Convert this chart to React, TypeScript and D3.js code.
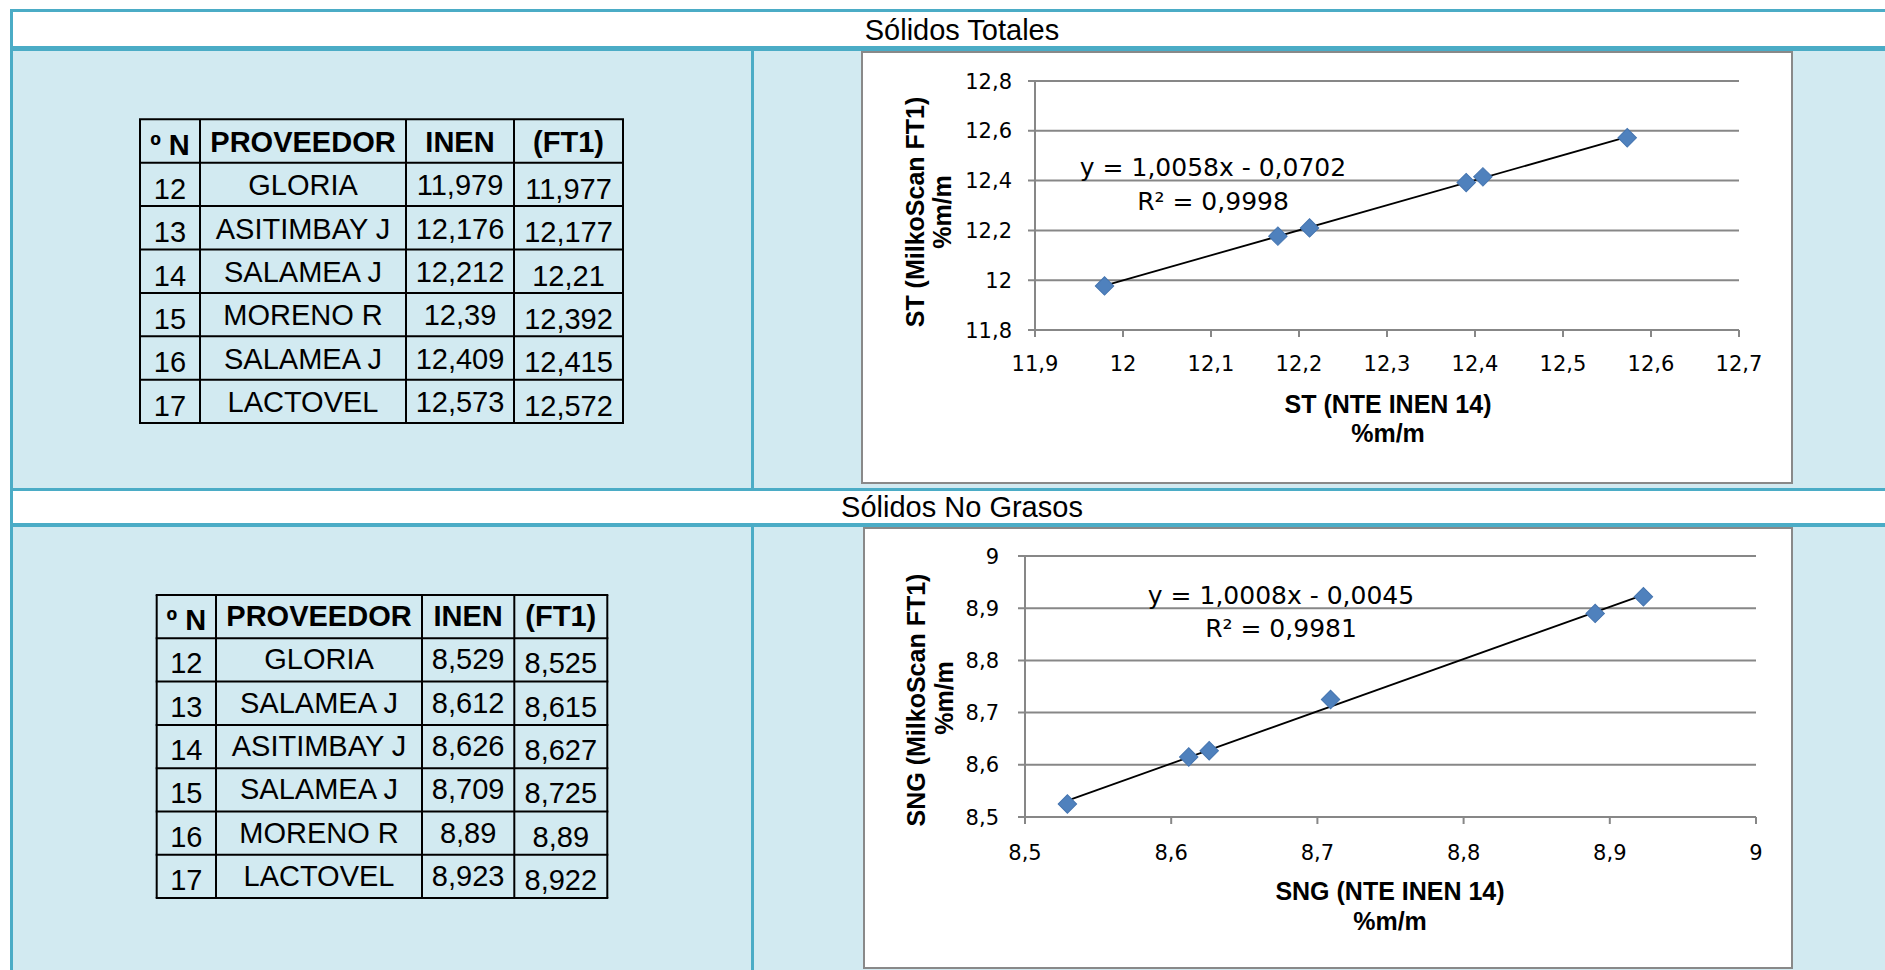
import React from 'react';
import * as d3 from 'd3';

// Sólidos Totales
const stNo = [12, 13, 14, 15, 16, 17];
const stProveedor = ['GLORIA', 'ASITIMBAY J', 'SALAMEA J', 'MORENO R', 'SALAMEA J', 'LACTOVEL'];
const stInen = [11.979, 12.176, 12.212, 12.39, 12.409, 12.573];
const stFt1 = [11.977, 12.177, 12.21, 12.392, 12.415, 12.572];
const stXTicks = [11.9, 12, 12.1, 12.2, 12.3, 12.4, 12.5, 12.6, 12.7];
const stYTicks = [11.8, 12, 12.2, 12.4, 12.6, 12.8];
const stFit = { slope: 1.0058, intercept: -0.0702, r2: 0.9998 };

// Sólidos No Grasos
const sngNo = [12, 13, 14, 15, 16, 17];
const sngProveedor = ['GLORIA', 'SALAMEA J', 'ASITIMBAY J', 'SALAMEA J', 'MORENO R', 'LACTOVEL'];
const sngInen = [8.529, 8.612, 8.626, 8.709, 8.89, 8.923];
const sngFt1 = [8.525, 8.615, 8.627, 8.725, 8.89, 8.922];
const sngXTicks = [8.5, 8.6, 8.7, 8.8, 8.9, 9];
const sngYTicks = [8.5, 8.6, 8.7, 8.8, 8.9, 9];
const sngFit = { slope: 1.0008, intercept: -0.0045, r2: 0.9981 };

const headers = ['º N', 'PROVEEDOR', 'INEN', '(FT1)'];

const TEAL = '#4BACC6';
const LIGHT = '#D2EAF1';
const GRID = '#878787';
const ARIAL = "'Liberation Sans', Arial, sans-serif";
const comma = (v: number) => String(v).replace('.', ',');
const comma4 = (v: number) => v.toFixed(4).replace('.', ',');

type TableProps = {
  cols: number[];
  top: number;
  rowH: number;
  low: number;
  high: number;
  no: number[];
  prov: string[];
  inen: number[];
  ft1: number[];
};

const DataTable = ({ cols, top, rowH, low, high, no, prov, inen, ft1 }: TableProps) => {
  const rows = [headers, ...no.map((n, i) => [String(n), prov[i], comma(inen[i]), comma(ft1[i])])];
  const bottom = top + rowH * rows.length;
  const cx = (c: number) => (cols[c] + cols[c + 1]) / 2;
  return (
    <g fontFamily={ARIAL} fontSize={29} fill="#000">
      {rows.map((r, ri) => {
        const y0 = top + ri * rowH;
        return r.map((t, ci) => {
          const isLow = ci === 0 || (ri > 0 && ci === 3);
          return (
            <text
              key={ri + '-' + ci}
              x={cx(ci)}
              y={y0 + (isLow ? low : high)}
              textAnchor="middle"
              fontWeight={ri === 0 ? 'bold' : 'normal'}
            >
              {t}
            </text>
          );
        });
      })}
      {d3.range(rows.length + 1).map((i) => (
        <line key={'h' + i} x1={cols[0] - 1} x2={cols[cols.length - 1] + 1} y1={top + i * rowH} y2={top + i * rowH} stroke="#000" strokeWidth={2} />
      ))}
      {cols.map((c, i) => (
        <line key={'v' + i} x1={c} x2={c} y1={top} y2={bottom} stroke="#000" strokeWidth={2} />
      ))}
    </g>
  );
};

type ChartProps = {
  box: [number, number, number, number];
  xr: [number, number];
  yr: [number, number];
  xTicks: number[];
  yTicks: number[];
  xs: number[];
  ys: number[];
  fit: { slope: number; intercept: number; r2: number };
  yLabX: number;
  xLabY: number;
  eq: [number, number, number];
  xTitle: string;
  xt: [number, number, number];
  yTitle: string;
  yt: [number, number, number, number];
};

const Scatter = (p: ChartProps) => {
  const x = d3.scaleLinear().domain([p.xTicks[0], p.xTicks[p.xTicks.length - 1]]).range(p.xr);
  const y = d3.scaleLinear().domain([p.yTicks[0], p.yTicks[p.yTicks.length - 1]]).range(p.yr);
  const [bx, by, bw, bh] = p.box;
  const xMin = d3.min(p.xs)!;
  const xMax = d3.max(p.xs)!;
  const f = (v: number) => p.fit.slope * v + p.fit.intercept;
  const line = d3.line<number>().x((d) => x(d)).y((d) => y(f(d)));
  const diamond = d3.symbol(d3.symbolSquare, 170)();
  const yBottom = p.yr[0];
  return (
    <g>
      <rect x={bx} y={by} width={bw} height={bh} fill="#fff" stroke="#898989" strokeWidth={2} />
      {p.yTicks.map((t) => (
        <line key={'g' + t} x1={p.xr[0] - 7} x2={p.xr[1]} y1={y(t)} y2={y(t)} stroke={GRID} strokeWidth={2} />
      ))}
      <line x1={p.xr[0]} x2={p.xr[0]} y1={p.yr[1]} y2={yBottom} stroke={GRID} strokeWidth={2} />
      {p.xTicks.map((t) => (
        <line key={'xt' + t} x1={x(t)} x2={x(t)} y1={yBottom} y2={yBottom + 7} stroke={GRID} strokeWidth={2} />
      ))}
      <g fontFamily="'DejaVu Sans', sans-serif" fontSize={21} fill="#000">
        {p.yTicks.map((t) => (
          <text key={'yl' + t} x={p.yLabX} y={y(t) + 7.5} textAnchor="end">
            {comma(t)}
          </text>
        ))}
        {p.xTicks.map((t) => (
          <text key={'xl' + t} x={x(t)} y={p.xLabY} textAnchor="middle">
            {comma(t)}
          </text>
        ))}
      </g>
      <path d={line([xMin, xMax]) || ''} stroke="#000" strokeWidth={1.8} fill="none" />
      {p.xs.map((v, i) => (
        <path
          key={'pt' + i}
          d={diamond || ''}
          transform={`translate(${x(v)},${y(p.ys[i])}) rotate(45)`}
          fill="#4F81BD"
          stroke="#4575B0"
          strokeWidth={1}
        />
      ))}
      <g fontFamily="'DejaVu Sans', sans-serif" fontSize={25} fill="#000" textAnchor="middle">
        <text x={p.eq[0]} y={p.eq[1]}>
          {`y = ${comma4(p.fit.slope)}x - ${comma4(-p.fit.intercept)}`}
        </text>
        <text x={p.eq[0]} y={p.eq[2]}>
          {`R² = ${comma4(p.fit.r2)}`}
        </text>
      </g>
      <g fontFamily={ARIAL} fontSize={25} fontWeight="bold" fill="#000" textAnchor="middle">
        <text x={p.xt[0]} y={p.xt[1]}>{p.xTitle}</text>
        <text x={p.xt[0]} y={p.xt[2]}>%m/m</text>
        <text transform={`translate(${p.yt[0]},${p.yt[1]}) rotate(-90)`}>{p.yTitle}</text>
        <text transform={`translate(${p.yt[2]},${p.yt[3]}) rotate(-90)`}>%m/m</text>
      </g>
    </g>
  );
};

export default function App() {
  const W = 1885;
  const H = 970;
  return (
    <svg width={W} height={H} style={{ position: 'absolute', left: 0, top: 0, background: '#fff' }}>
      {/* frame */}
      <rect x={10} y={9} width={W - 10} height={H - 9} fill={TEAL} />
      <rect x={13} y={12} width={W - 13} height={34} fill="#fff" />
      <rect x={13} y={51} width={W - 13} height={437} fill={LIGHT} />
      <rect x={13} y={491} width={W - 13} height={32} fill="#fff" />
      <rect x={13} y={527} width={W - 13} height={H - 527} fill={LIGHT} />
      <rect x={751} y={51} width={3} height={437} fill={TEAL} />
      <rect x={751} y={527} width={3} height={H - 527} fill={TEAL} />
      <g fontFamily={ARIAL} fontSize={29} fill="#000" textAnchor="middle">
        <text x={962} y={40}>Sólidos Totales</text>
        <text x={962} y={517}>Sólidos No Grasos</text>
      </g>

      <DataTable
        cols={[140, 200, 406, 514, 623]}
        top={119.3}
        rowH={43.4}
        low={36}
        high={32.5}
        no={stNo}
        prov={stProveedor}
        inen={stInen}
        ft1={stFt1}
      />
      <DataTable
        cols={[156.7, 216, 422, 514.3, 607.3]}
        top={595}
        rowH={43.3}
        low={35}
        high={31}
        no={sngNo}
        prov={sngProveedor}
        inen={sngInen}
        ft1={sngFt1}
      />

      <Scatter
        box={[862, 52, 930, 431]}
        xr={[1035, 1739]}
        yr={[330, 81]}
        xTicks={stXTicks}
        yTicks={stYTicks}
        xs={stInen}
        ys={stFt1}
        fit={stFit}
        yLabX={1012}
        xLabY={371}
        eq={[1213, 176, 210]}
        xTitle="ST (NTE INEN 14)"
        xt={[1388, 413, 442]}
        yTitle="ST (MilkoScan FT1)"
        yt={[924, 212, 951, 212]}
      />
      <Scatter
        box={[864, 528, 928, 440]}
        xr={[1025, 1756]}
        yr={[817, 556]}
        xTicks={sngXTicks}
        yTicks={sngYTicks}
        xs={sngInen}
        ys={sngFt1}
        fit={sngFit}
        yLabX={999}
        xLabY={860}
        eq={[1281, 604, 637]}
        xTitle="SNG (NTE INEN 14)"
        xt={[1390, 900, 930]}
        yTitle="SNG (MilkoScan FT1)"
        yt={[925, 700, 953, 698]}
      />
    </svg>
  );
}
